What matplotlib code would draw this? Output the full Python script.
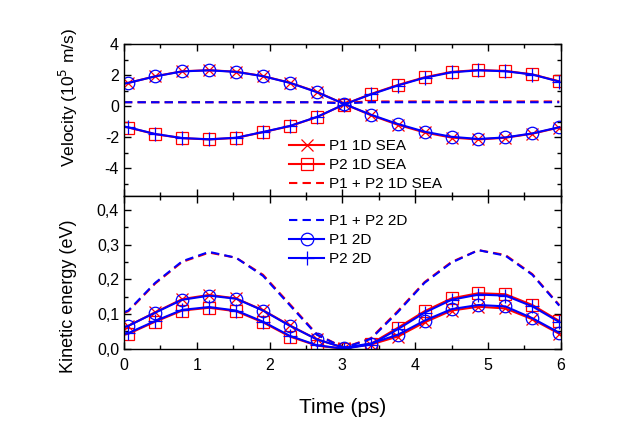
import matplotlib
matplotlib.use('Agg')
import matplotlib.pyplot as plt
from matplotlib.ticker import MultipleLocator, FuncFormatter

plt.rcParams['font.family'] = ['Liberation Sans', 'DejaVu Sans']

# time grid (ps); markers sit on every point except the first
t = [0.0, 0.06, 0.43, 0.80, 1.17, 1.54, 1.91, 2.28, 2.65, 3.02, 3.39,
     3.76, 4.13, 4.50, 4.87, 5.24, 5.61, 5.98]

# velocity (1e5 m/s)
v_p1_1d = [1.45, 1.50, 1.93, 2.25, 2.32, 2.22, 1.94, 1.51, 0.92, 0.15, -0.58,
           -1.20, -1.70, -2.03, -2.15, -2.04, -1.78, -1.38]
v_p2_1d = [-1.32, -1.38, -1.81, -2.07, -2.15, -2.05, -1.68, -1.29, -0.71, 0.10, 0.78,
           1.36, 1.86, 2.21, 2.33, 2.27, 2.05, 1.60]
v_sum_1d = [0.25, 0.25, 0.25, 0.25, 0.25, 0.25, 0.25, 0.25, 0.25, 0.22, 0.30,
            0.30, 0.30, 0.30, 0.30, 0.30, 0.30, 0.30]
v_p1_2d = [1.45, 1.50, 1.92, 2.24, 2.31, 2.21, 1.93, 1.50, 0.90, 0.15, -0.55,
           -1.15, -1.65, -1.98, -2.12, -2.02, -1.76, -1.36]
v_p2_2d = [-1.32, -1.37, -1.80, -2.06, -2.14, -2.04, -1.67, -1.28, -0.70, 0.10, 0.75,
           1.33, 1.83, 2.18, 2.31, 2.25, 2.04, 1.58]
v_sum_2d = [0.25, 0.25, 0.25, 0.25, 0.25, 0.25, 0.25, 0.25, 0.25, 0.18, 0.25,
            0.25, 0.25, 0.25, 0.25, 0.25, 0.25, 0.25]

# kinetic energy (eV)
ke_p1_1d = [0.062, 0.066, 0.105, 0.143, 0.155, 0.145, 0.111, 0.067, 0.027, 0.003, 0.012,
            0.035, 0.076, 0.110, 0.121, 0.116, 0.085, 0.043]
ke_p2_1d = [0.040, 0.043, 0.078, 0.110, 0.118, 0.108, 0.076, 0.035, 0.009, 0.000, 0.014,
            0.060, 0.108, 0.145, 0.160, 0.157, 0.126, 0.080]
ke_sum_1d = [0.103, 0.108, 0.188, 0.250, 0.277, 0.262, 0.213, 0.128, 0.042, 0.003, 0.030,
             0.108, 0.192, 0.250, 0.284, 0.270, 0.215, 0.126]
ke_p1_2d = [0.062, 0.066, 0.104, 0.141, 0.153, 0.144, 0.110, 0.066, 0.027, 0.003, 0.015,
            0.040, 0.081, 0.114, 0.126, 0.122, 0.088, 0.046]
ke_p2_2d = [0.042, 0.045, 0.080, 0.112, 0.120, 0.110, 0.078, 0.037, 0.010, 0.000, 0.012,
            0.056, 0.104, 0.141, 0.156, 0.153, 0.122, 0.077]
ke_sum_2d = [0.105, 0.110, 0.190, 0.252, 0.279, 0.262, 0.210, 0.125, 0.040, 0.003, 0.028,
             0.105, 0.190, 0.248, 0.284, 0.268, 0.213, 0.124]

RED = '#ff0000'
BLUE = '#0000ff'
marks = list(range(1, len(t)))
dash = (4, 2.5)

fig = plt.figure(figsize=(6.23, 4.37), dpi=100)
ax1 = fig.add_axes([0.199, 0.5515, 0.701, 0.3475])
ax2 = fig.add_axes([0.199, 0.202, 0.701, 0.3495], sharex=ax1)


def draw(ax, p1_1d, p2_1d, s_1d, p1_2d, p2_2d, s_2d):
    h = {}
    h['x'], = ax.plot(t, p1_1d, color=RED, lw=1.5, marker='x', ms=9, mew=0.9,
                      markevery=marks, label='P1 1D SEA')
    h['s'], = ax.plot(t, p2_1d, color=RED, lw=1.5, marker='s', ms=8, mew=0.9,
                      mfc='none', markevery=marks, label='P2 1D SEA')
    h['sd'], = ax.plot(t, s_1d, color=RED, lw=1.5, dashes=dash, label='P1 + P2 1D SEA')
    h['bd'], = ax.plot(t, s_2d, color=BLUE, lw=1.5, dashes=dash, label='P1 + P2 2D')
    h['o'], = ax.plot(t, p1_2d, color=BLUE, lw=1.5, marker='o', ms=9, mew=0.9,
                      mfc='none', markevery=marks, label='P1 2D')
    h['+'], = ax.plot(t, p2_2d, color=BLUE, lw=1.5, marker='+', ms=10, mew=0.9,
                      markevery=marks, label='P2 2D')
    return h


h1 = draw(ax1, v_p1_1d, v_p2_1d, v_sum_1d, v_p1_2d, v_p2_2d, v_sum_2d)
h2 = draw(ax2, ke_p1_1d, ke_p2_1d, ke_sum_1d, ke_p1_2d, ke_p2_2d, ke_sum_2d)

for ax in (ax1, ax2):
    ax.tick_params(which='both', direction='in', top=True, right=True,
                   labelsize=11.5, width=1)
    ax.tick_params(which='major', length=5)
    ax.tick_params(which='minor', length=3)
    ax.tick_params(axis='x', pad=7)
    for sp in ax.spines.values():
        sp.set_linewidth(1.0)
    ax.xaxis.set_major_locator(MultipleLocator(1))
    ax.xaxis.set_minor_locator(MultipleLocator(0.5))

ax1.set_xlim(0, 6)
ax1.set_ylim(-5.8, 4)
ax1.yaxis.set_major_locator(MultipleLocator(2))
ax1.yaxis.set_minor_locator(MultipleLocator(1))
ax1.yaxis.set_major_formatter(FuncFormatter(lambda v, p: '%d' % v))
ax1.tick_params(labelbottom=False)

ax2.set_ylim(0, 0.44)
ax2.yaxis.set_major_locator(MultipleLocator(0.1))
ax2.yaxis.set_minor_locator(MultipleLocator(0.05))
ax2.yaxis.set_major_formatter(FuncFormatter(lambda v, p: ('%.1f' % v).replace('.', ',')))
ax2.xaxis.set_major_formatter(FuncFormatter(lambda v, p: '%d' % v))

ax1.set_ylabel('Velocity (10$^5$ m/s)', fontsize=12.5)
ax2.set_ylabel('Kinetic energy (eV)', fontsize=13)
ax2.set_xlabel('Time (ps)', fontsize=15, labelpad=18)
ax1.yaxis.set_label_coords(-0.10, 0.65)
ax2.yaxis.set_label_coords(-0.107, 0.345)

leg_kw = dict(loc='upper left', frameon=False, fontsize=11, borderpad=0,
              borderaxespad=0, handlelength=2.3, handletextpad=0.3,
              labelspacing=0.33)
ax1.legend(handles=[h1['x'], h1['s'], h1['sd']],
           bbox_to_anchor=(0.378, 0.375), **leg_kw)
ax2.legend(handles=[h2['bd'], h2['o'], h2['+']],
           bbox_to_anchor=(0.378, 0.88), **leg_kw)

fig.savefig('out.png', dpi=100)
